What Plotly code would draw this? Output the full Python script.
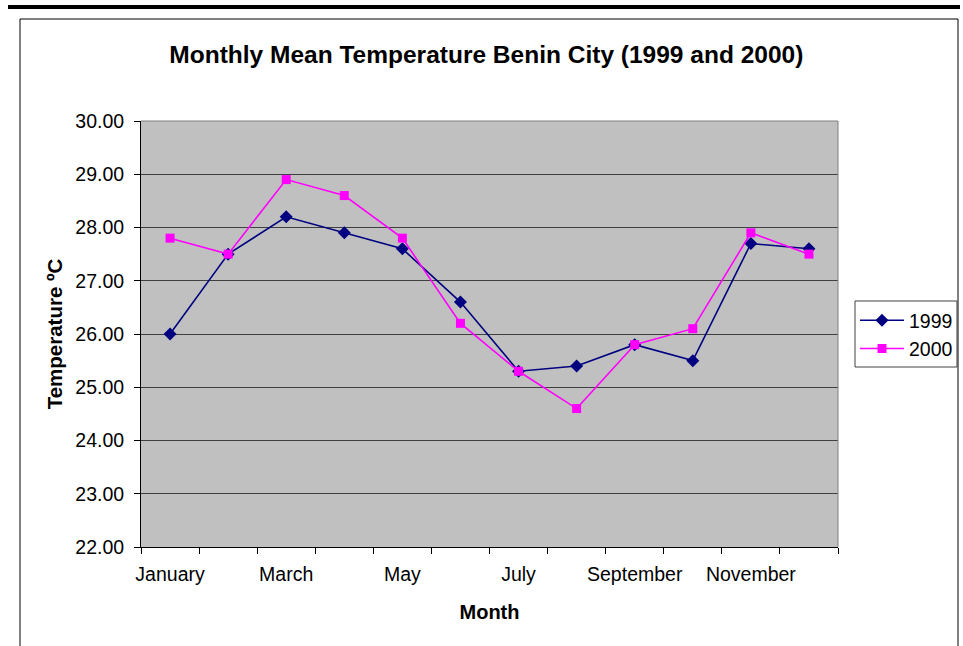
import plotly.graph_objects as go

months = ["January", "February", "March", "April", "May", "June", "July",
          "August", "September", "October", "November", "December"]
temp_1999 = [26.0, 27.5, 28.2, 27.9, 27.6, 26.6, 25.3, 25.4, 25.8, 25.5, 27.7, 27.6]
temp_2000 = [27.8, 27.5, 28.9, 28.6, 27.8, 26.2, 25.3, 24.6, 25.8, 26.1, 27.9, 27.5]
y_ticks = [22, 23, 24, 25, 26, 27, 28, 29, 30]

W, H = 963, 646
L, R, T, B = 141, 125, 121, 99
PW, PH = W - L - R, H - T - B

def px(xp):
    return (xp - L) / PW

def py(yp):
    return (H - B - yp) / PH

xi = list(range(len(months)))
font = "Liberation Sans, Arial, sans-serif"

fig = go.Figure()
fig.add_trace(go.Scatter(x=xi, y=temp_1999, name="1999", mode="lines+markers",
                         line=dict(color="#000080", width=1.6),
                         marker=dict(symbol="diamond", size=10, color="#000080")))
fig.add_trace(go.Scatter(x=xi, y=temp_2000, name="2000", mode="lines+markers",
                         line=dict(color="#FF00FF", width=1.6),
                         marker=dict(symbol="square", size=9, color="#FF00FF")))

fig.update_layout(
    width=W, height=H,
    margin=dict(l=L, r=R, t=T, b=B, autoexpand=False),
    paper_bgcolor="white", plot_bgcolor="#C0C0C0",
    font=dict(family=font, size=19.5, color="black"),
    title=dict(text="<b>Monthly Mean Temperature Benin City (1999 and 2000)</b>",
               x=px(493), xanchor="center", y=1 - 54 / H, yanchor="middle",
               font=dict(size=24.5)),
    showlegend=True,
    legend=dict(x=px(855), y=py(301), xanchor="left", yanchor="top",
                borderwidth=0, bgcolor="rgba(0,0,0,0)",
                font=dict(size=19.5), itemwidth=44, tracegroupgap=2),
    xaxis=dict(range=[-0.5, len(months) - 0.5], tickmode="array",
               tickvals=xi[::2], ticktext=months[::2], ticks="", showgrid=False,
               zeroline=False, showline=True, linecolor="black", linewidth=1,
               minor=dict(tickmode="array",
                          tickvals=[i - 0.5 for i in range(len(months) + 1)],
                          ticks="outside", ticklen=6, tickcolor="black", showgrid=False),
               ticklabelstandoff=10,
               title=dict(text="<b>Month</b>", font=dict(size=20), standoff=20)),
    yaxis=dict(range=[22, 30], tickmode="array", tickvals=y_ticks,
               tickformat=".2f", ticks="outside", ticklen=6, tickcolor="black",
               showgrid=True, gridcolor="#404040", gridwidth=1, zeroline=False,
               showline=True, linecolor="black", linewidth=1, ticklabelstandoff=6,
               title=dict(text="<b>Temperature ºC</b>", font=dict(size=20.5), standoff=7)),
    shapes=[
        dict(type="line", xref="paper", yref="paper", x0=px(8), x1=px(960),
             y0=py(7), y1=py(7), line=dict(color="black", width=4)),
        dict(type="line", xref="paper", yref="paper", x0=px(20), x1=px(958),
             y0=py(19), y1=py(19), line=dict(color="black", width=1)),
        dict(type="line", xref="paper", yref="paper", x0=px(20), x1=px(20),
             y0=py(19), y1=py(646), line=dict(color="black", width=1)),
        dict(type="line", xref="paper", yref="paper", x0=px(958), x1=px(958),
             y0=py(19), y1=py(646), line=dict(color="black", width=1)),
        dict(type="line", xref="paper", yref="paper", x0=0, x1=1, y0=1, y1=1,
             line=dict(color="#808080", width=1)),
        dict(type="line", xref="paper", yref="paper", x0=1, x1=1, y0=0, y1=1,
             line=dict(color="#808080", width=1)),
        dict(type="rect", xref="paper", yref="paper", x0=px(855), x1=px(957),
             y0=py(367), y1=py(301), line=dict(color="#404040", width=1)),
    ],
)

fig.write_html("out.html", config={"displayModeBar": False},
               post_script="document.body.style.margin='0';")
